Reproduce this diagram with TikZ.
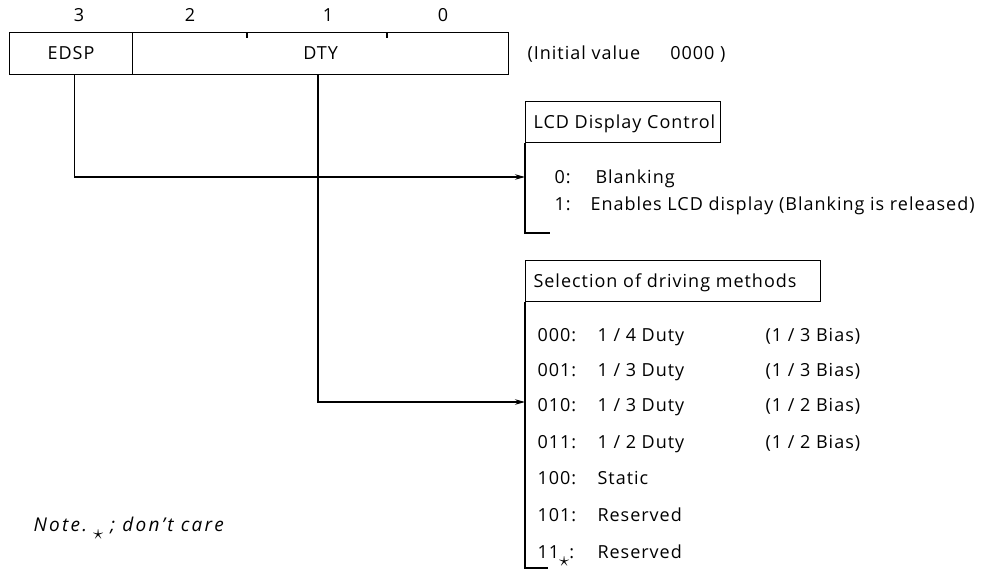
\documentclass[tikz,border=0pt]{standalone}
\usepackage{fontspec}
\setmainfont{Open Sans}[LetterSpace=5.5]
\usetikzlibrary{arrows.meta}
\newcommand{\dcstar}{\raisebox{-8pt}{\fontsize{22}{22}\selectfont$\star$}}
\begin{document}
\begin{tikzpicture}[x=1pt,y=-1pt,
  font=\fontsize{18}{21}\selectfont,
  line width=1.1pt,
  cell/.style={draw, minimum height=42pt, inner sep=0pt, anchor=north west},
  bitlabel/.style={inner sep=0pt, anchor=base},
  titlebox/.style={draw, minimum height=41pt, inner sep=0pt, anchor=north west},
  row/.style={inner sep=0pt, anchor=base west},
  arr/.style={-{Stealth[length=10pt,width=5.5pt]}},
]
\useasboundingbox (0,0) rectangle (985,573);

% register
\node[cell, minimum width=123pt] (edsp) at (9,32) {EDSP};
\node[cell, minimum width=376pt] (dty) at (132,32) {DTY};
\draw (247,32) -- (247,38);
\draw (387,32) -- (387,38);
\node[bitlabel] (b3) at (79,21) {3};
\node[bitlabel] (b2) at (190,21) {2};
\node[bitlabel] (b1) at (328,21) {1};
\node[bitlabel] (b0) at (443,21) {0};
\node[row] (init) at (527,59) {(Initial value\hspace{30pt}0000 )};

% LCD display control
\node[titlebox, minimum width=195pt] (lcdt) at (525,101) {};
\node[row] (lcdtt) at (533,128) {LCD Display Control};
\coordinate (lcdfoot) at (525,233);
\draw (lcdt.south west) -- (lcdfoot) -- ++(25,0);
\coordinate (lcdin) at (525,177);
\node[row] (l0a) at (554,183) {0:};
\node[row] (l0b) at (595,183) {Blanking};
\node[row] (l1a) at (554,210) {1:};
\node[row] (l1b) at (590,210) {Enables LCD display (Blanking is released)};

% Selection of driving methods
\node[titlebox, minimum width=295pt] (selt) at (525,260) {};
\node[row] (seltt) at (533,287) {Selection of driving methods};
\coordinate (selfoot) at (525,568);
\draw (selt.south west) -- (selfoot) -- ++(23,0);
\coordinate (selin) at (525,402);
\node[row] (s0a) at (537,341) {000:};
\node[row] (s0b) at (597,341) {1 / 4 Duty};
\node[row] (s0c) at (765,341) {(1 / 3 Bias)};
\node[row] (s1a) at (537,376) {001:};
\node[row] (s1b) at (597,376) {1 / 3 Duty};
\node[row] (s1c) at (765,376) {(1 / 3 Bias)};
\node[row] (s2a) at (537,411) {010:};
\node[row] (s2b) at (597,411) {1 / 3 Duty};
\node[row] (s2c) at (765,411) {(1 / 2 Bias)};
\node[row] (s3a) at (537,448) {011:};
\node[row] (s3b) at (597,448) {1 / 2 Duty};
\node[row] (s3c) at (765,448) {(1 / 2 Bias)};
\node[row] (s4a) at (537,484) {100:};
\node[row] (s4b) at (597,484) {Static};
\node[row] (s5a) at (537,521) {101:};
\node[row] (s5b) at (597,521) {Reserved};
\node[row] (s6a) at (537,558) {11\dcstar:};
\node[row] (s6b) at (597,558) {Reserved};

% note
\node[row, font=\fontsize{19}{22}\selectfont\itshape\addfontfeatures{LetterSpace=12}] (note) at (33,531) {Note.\hspace{6pt}\dcstar\hspace{7pt}; don't care};

% connectors
\draw[arr] ([xshift=3pt]edsp.south) |- (lcdin);
\draw[arr] (dty.south -| 318,0) |- (selin);
\end{tikzpicture}
\end{document}
